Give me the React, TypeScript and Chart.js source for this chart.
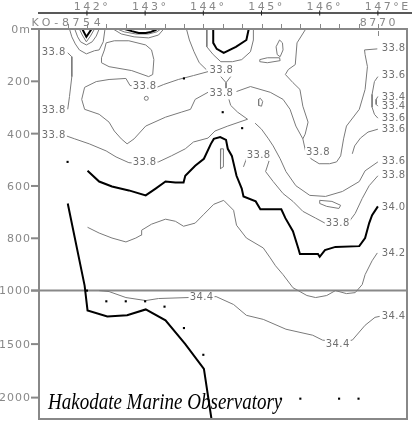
import React, { useEffect, useRef } from "react";
import { Chart, registerables } from "chart.js";

Chart.register(...registerables);

type P = [number, number]; // [longitude °E, depth m]

const stationLons = [141.667, 142.0, 142.333, 142.667, 143.0, 143.333, 143.667, 144.0, 144.333, 144.667, 145.0, 145.333, 145.667, 146.0, 146.333, 146.667, 147.0];
const firstStation = "KO-8754";
const lastStation = "8770";
const lonTicks = [142, 143, 144, 145, 146, 147];
const depthTicks = [0, 200, 400, 600, 800, 1000, 1500, 2000];
const depthTickLabels = ["0m", "200", "400", "600", "800", "1000", "1500", "2000"];
const title = "Hakodate Marine Observatory";

// thick contours
const sal340: P[] = [[142.01,542],[142.21,583],[142.43,602],[142.72,617],[143.01,636],[143.18,610],[143.35,583],[143.52,587],[143.66,587],[143.69,561],[143.86,523],[144.01,496],[144.13,439],[144.18,420],[144.29,413],[144.39,424],[144.42,458],[144.49,485],[144.57,561],[144.66,610],[144.69,640],[144.90,659],[144.98,689],[145.34,689],[145.41,723],[145.54,773],[145.63,837],[145.66,860],[145.97,860],[146.00,871],[146.09,845],[146.27,833],[146.68,830],[146.78,799],[146.85,742],[146.90,712],[147.00,678]];
const topV: P[] = [[141.92,0],[141.99,30],[142.08,0]];
const topLens143: P[] = [[142.65,0],[142.77,8],[142.89,15],[143.01,15],[143.10,11],[143.18,4],[143.20,0]];
const topU144: P[] = [[144.17,0],[144.17,53],[144.23,76],[144.35,91],[144.56,68],[144.74,42],[144.78,0]];
const seaBottom: P[] = [[141.67,667],[141.96,981],[142.01,1185],[142.35,1241],[142.69,1231],[143.01,1176],[143.35,1278],[143.69,1500],[144.01,1731],[144.14,2200]];

// thin contours
const sal342: P[] = [[142.01,758],[142.21,780],[142.43,799],[142.67,814],[142.84,799],[142.93,788],[142.94,769],[143.11,746],[143.35,727],[143.52,735],[143.66,754],[143.86,742],[144.01,708],[144.18,670],[144.35,655],[144.52,693],[144.57,750],[144.74,799],[145.03,837],[145.15,875],[145.24,905],[145.37,939],[145.54,989],[145.63,1000],[145.78,1046],[145.93,1065],[146.12,1046],[146.27,1000],[146.46,1028],[146.61,1019],[146.73,977],[146.78,939],[146.90,886],[146.99,856]];
const sal344: P[] = [[142.21,1000],[142.38,1009],[142.67,1065],[143.01,1093],[143.23,1074],[143.74,1065],[143.97,1065],[144.22,1056],[144.52,1130],[144.74,1231],[145.03,1269],[145.42,1361],[145.88,1417],[146.05,1463],[146.31,1475],[146.56,1463],[146.78,1324],[146.95,1250],[147.03,1241]];
const c1: P[] = [[141.67,91],[141.74,106],[141.74,182],[141.70,258],[141.67,307]];
const c2: P[] = [[141.65,409],[141.79,420],[142.04,439],[142.33,466],[142.50,489],[142.72,511],[142.98,515],[143.23,508],[143.45,485],[143.69,458],[143.83,432],[144.08,417],[144.20,390],[144.42,371],[144.76,345],[144.59,318],[144.47,292],[144.44,269]];
const cB: P[] = [[144.08,163],[143.83,178],[143.57,193],[143.32,212],[143.20,223],[142.98,223],[142.74,216],[142.67,189],[142.38,193],[142.16,201],[141.96,223],[141.91,269],[141.96,307],[142.21,326],[142.38,356],[142.47,390],[142.59,420],[142.69,439],[142.81,420],[143.01,371],[143.35,337],[143.62,318],[143.78,307],[143.86,269],[144.08,242]];
const cY1: P[] = [[144.30,182],[144.39,205],[144.47,182]];
const cY2: P[] = [[144.39,205],[144.39,227]];
const t1: P[] = [[143.71,0],[143.76,42],[143.84,87],[143.93,129],[144.05,155]];
const u1: P[] = [[141.87,0],[141.92,23],[141.99,49],[142.06,27],[142.13,0]];
const u2: P[] = [[141.79,0],[141.84,30],[141.89,49],[141.99,61],[142.09,49],[142.16,27],[142.21,0]];
const u3: P[] = [[141.70,0],[141.74,30],[141.80,57],[141.87,80],[141.99,95],[142.13,83],[142.21,80],[142.28,49],[142.31,0]];
const g1: P[] = [[142.52,0],[142.64,11],[142.84,19],[143.06,19],[143.20,11],[143.27,0]];
const g2: P[] = [[142.45,0],[142.59,19],[142.81,30],[143.06,34],[143.23,23],[143.32,0]];
const l1: P[] = [[142.33,53],[142.47,45],[142.72,45],[143.01,61],[143.11,80],[143.15,117],[143.13,174],[143.06,182],[142.77,159],[142.38,144],[142.25,129],[142.25,110],[142.30,80],[142.33,53]];
const outerU: P[] = [[144.06,0],[144.06,68],[144.17,98],[144.30,125],[144.50,125],[144.66,117],[144.81,87],[144.86,42],[144.86,0]];
const lensV: P[] = [[145.31,42],[145.25,68],[145.27,98],[145.32,106],[145.37,80],[145.36,53],[145.31,42]];
const lensH: P[] = [[144.97,117],[145.10,110],[145.31,110],[145.32,121],[145.10,129],[144.97,125],[144.97,117]];
const lens0: P[] = [[144.95,269],[144.95,292],[145.00,295],[145.02,277],[144.98,265],[144.95,269]];
const r1: P[] = [[145.76,0],[145.61,53],[145.58,136],[145.46,155],[145.41,174],[145.54,205],[145.66,231],[145.71,295],[145.80,356],[145.75,402],[145.71,420]];
const r2: P[] = [[144.57,239],[144.81,220],[145.15,242],[145.37,269],[145.49,307],[145.59,371],[145.71,420],[145.76,470],[145.85,496],[145.99,515],[146.17,515],[146.29,508],[146.36,485],[146.41,420],[146.46,371],[146.68,307],[146.78,231],[146.82,144],[146.78,98],[146.77,80],[146.99,76]];
const c336a: P[] = [[147.00,182],[146.94,201],[146.90,250],[146.90,299],[146.94,326],[147.00,341]];
const c334: P[] = [[147.00,258],[146.97,269],[146.97,288],[147.00,295]];
const r3: P[] = [[147.00,383],[146.83,394],[146.70,417],[146.60,447],[146.56,477]];
const bowl336: P[] = [[147.00,508],[146.78,542],[146.68,583],[146.39,621],[146.10,640],[145.83,636],[145.59,599],[145.42,545],[145.32,496],[145.20,447],[145.12,420],[145.00,383],[144.89,360]];
const bowl338: P[] = [[147.00,561],[146.85,599],[146.73,648],[146.61,705],[146.51,735],[146.31,746],[146.09,742],[145.93,723],[145.71,697],[145.54,659],[145.37,629],[145.20,583],[145.07,545],[145.13,504],[144.95,489],[144.74,496],[144.69,527]];
const lensPeak: P[] = [[144.30,458],[144.29,496],[144.30,534],[144.34,527],[144.35,489],[144.34,458],[144.30,458]];
const lensBowl: P[] = [[146.00,655],[146.21,659],[146.36,674],[146.33,686],[146.12,678],[146.00,667],[146.00,655]];

// sample points
const bottomSamples: P[] = [[142.0,1000],[142.333,1100],[142.667,1100],[143.0,1100],[143.333,1150],[143.667,1350],[144.0,1600],[145.333,2010],[145.667,2010],[146.333,2010],[146.667,2010]];
const upperSamples: P[] = [[141.667,508],[143.667,189],[144.333,318],[144.667,379]];
const ringSamples: P[] = [[143.02,265]];

const contourLabels: [string, number, number][] = [
  ["33.8",141.43,91],["33.8",141.43,311],["33.8",141.43,405],
  ["33.8",142.99,220],["33.8",144.31,159],["33.8",144.31,246],["33.8",142.99,511],
  ["33.8",144.95,485],["33.8",145.97,473],["33.8",146.31,742],
  ["34.4",143.97,1065],["34.4",146.31,1500],
  ["33.8",147.27,76],["33.6",147.27,178],["33.4",147.27,261],["33.4",147.27,295],
  ["33.6",147.27,341],["33.6",147.27,383],["33.6",147.27,508],["33.8",147.27,561],
  ["34.0",147.27,682],["34.2",147.27,856],["34.4",147.27,1241],
];

const thickLines = [sal340, topV, topLens143, topU144, seaBottom];
const thinLines = [sal342, sal344, c1, c2, cB, cY1, cY2, t1, u1, u2, u3, g1, g2, l1, outerU, lensV, lensH, lens0, r1, r2, c336a, c334, r3, bowl336, bowl338, lensPeak, lensBowl];

const DEEP = 0.409; // compressed scale below 1000 m
const toDisp = (d: number) => (d <= 1000 ? d : 1000 + (d - 1000) * DEEP);
const GRAY = "#888888";
const LINE_GRAY = "#7a7a7a";
const FONT = "'DejaVu Sans', sans-serif";

const setLS = (ctx: any, v: string) => { try { ctx.letterSpacing = v; } catch (e) {} };

const overlay = {
  id: "overlay",
  beforeDatasetsDraw(chart: any) {
    const { ctx, chartArea: a, scales } = chart;
    const py = scales.y.getPixelForValue(toDisp(1000));
    ctx.save();
    ctx.strokeStyle = GRAY;
    ctx.lineWidth = 2;
    ctx.beginPath();
    ctx.moveTo(a.left - 8, py);
    ctx.lineTo(a.right, py);
    ctx.stroke();
    ctx.restore();
  },
  afterDatasetsDraw(chart: any) {
    const { ctx, chartArea: a, scales } = chart;
    const xs = scales.x, ys = scales.y;
    ctx.save();
    // contour labels
    ctx.font = `10px ${FONT}`;
    setLS(ctx, "0.4px");
    ctx.textAlign = "center";
    ctx.textBaseline = "middle";
    for (const [t, lon, d] of contourLabels) {
      const px = xs.getPixelForValue(lon);
      const py = ys.getPixelForValue(toDisp(d));
      const w = ctx.measureText(t).width;
      ctx.fillStyle = "#ffffff";
      ctx.fillRect(px - w / 2 - 1, py - 5, w + 2, 10);
      ctx.fillStyle = "#707070";
      ctx.fillText(t, px, py);
    }
    // frame
    ctx.strokeStyle = GRAY;
    ctx.lineWidth = 2;
    ctx.strokeRect(a.left, a.top, a.right - a.left, a.bottom - a.top);
    // depth ticks
    ctx.font = `11px ${FONT}`;
    setLS(ctx, "1px");
    ctx.textAlign = "right";
    ctx.fillStyle = GRAY;
    depthTicks.forEach((d, i) => {
      const py = ys.getPixelForValue(toDisp(d));
      ctx.beginPath();
      ctx.moveTo(a.left - 8, py);
      ctx.lineTo(a.left, py);
      ctx.stroke();
      ctx.fillText(depthTickLabels[i], a.left - 8, py + 1);
    });
    // top longitude axis
    const yTop = a.top - 16;
    ctx.strokeStyle = "#222222";
    ctx.lineWidth = 1.5;
    ctx.beginPath();
    ctx.moveTo(a.left - 1, yTop);
    ctx.lineTo(chart.width, yTop);
    ctx.stroke();
    ctx.lineWidth = 1;
    ctx.font = `11px ${FONT}`;
    setLS(ctx, "2.5px");
    ctx.textAlign = "left";
    ctx.textBaseline = "alphabetic";
    ctx.fillStyle = GRAY;
    for (const t of lonTicks) {
      const px = xs.getPixelForValue(t);
      ctx.beginPath();
      ctx.moveTo(px, yTop - 2.5);
      ctx.lineTo(px, yTop + 2.5);
      ctx.stroke();
      const digits = String(t);
      const w = ctx.measureText(digits).width;
      ctx.fillText(digits + "°" + (t === lonTicks[lonTicks.length - 1] ? "E" : ""), px - w / 2 + 1, yTop - 3);
    }
    // station ticks
    ctx.strokeStyle = GRAY;
    ctx.lineWidth = 1;
    stationLons.forEach((lon, i) => {
      const px = Math.round(xs.getPixelForValue(lon)) + 0.5;
      ctx.beginPath();
      ctx.moveTo(px, a.top - 5);
      ctx.lineTo(px, a.top - 1);
      if (i === stationLons.length - 1) {
        ctx.moveTo(px, a.top + 2);
        ctx.lineTo(px, a.top + 7);
      }
      ctx.stroke();
    });
    ctx.fillStyle = GRAY;
    setLS(ctx, "3.6px");
    ctx.fillText(firstStation, xs.getPixelForValue(stationLons[0]) - 36, a.top - 3);
    setLS(ctx, "2.6px");
    const w2 = ctx.measureText(lastStation).width;
    ctx.fillText(lastStation, xs.getPixelForValue(stationLons[stationLons.length - 1]) - w2 / 2 + 1, a.top - 3);
    setLS(ctx, "0px");
    // title
    ctx.fillStyle = "#000000";
    ctx.font = "italic 19px 'Liberation Serif', serif";
    ctx.translate(a.left + 9, a.bottom - 10);
    ctx.scale(1, 1.2);
    ctx.fillText(title, 0, 0);
    ctx.restore();
  },
};

const toXY = (pts: P[]) => pts.map(([x, d]) => ({ x, y: toDisp(d) }));

export default function App() {
  const ref = useRef<HTMLCanvasElement | null>(null);
  useEffect(() => {
    document.body.style.margin = "0";
    const canvas = ref.current;
    if (!canvas) return;
    const datasets: any[] = [];
    for (const s of [bottomSamples, upperSamples]) {
      datasets.push({ data: toXY(s), showLine: false, pointRadius: 1.5, pointStyle: "rect", backgroundColor: "#000", borderWidth: 0 });
    }
    datasets.push({ data: toXY(ringSamples), showLine: false, pointRadius: 2, pointStyle: "circle", backgroundColor: "rgba(0,0,0,0)", borderColor: LINE_GRAY, borderWidth: 1 });
    for (const l of thickLines) {
      datasets.push({ data: toXY(l), showLine: true, borderColor: "#000", borderWidth: 2, pointRadius: 0, tension: 0, fill: false });
    }
    for (const l of thinLines) {
      datasets.push({ data: toXY(l), showLine: true, borderColor: LINE_GRAY, borderWidth: 1, pointRadius: 0, tension: 0, fill: false });
    }
    const chart = new Chart(canvas, {
      type: "scatter",
      data: { datasets },
      options: {
        animation: false,
        responsive: false,
        maintainAspectRatio: false,
        devicePixelRatio: 1,
        events: [],
        layout: { padding: { left: 39, top: 29, right: 1, bottom: 1 } },
        plugins: { legend: { display: false }, tooltip: { enabled: false } },
        scales: {
          x: { type: "linear", min: 141.176, max: 147.5, display: false },
          y: { type: "linear", min: 0, max: toDisp(2200), reverse: true, display: false },
        },
      },
      plugins: [overlay],
    } as any);
    return () => chart.destroy();
  }, []);
  return <canvas ref={ref} width={412} height={424} style={{ display: "block" }} />;
}
